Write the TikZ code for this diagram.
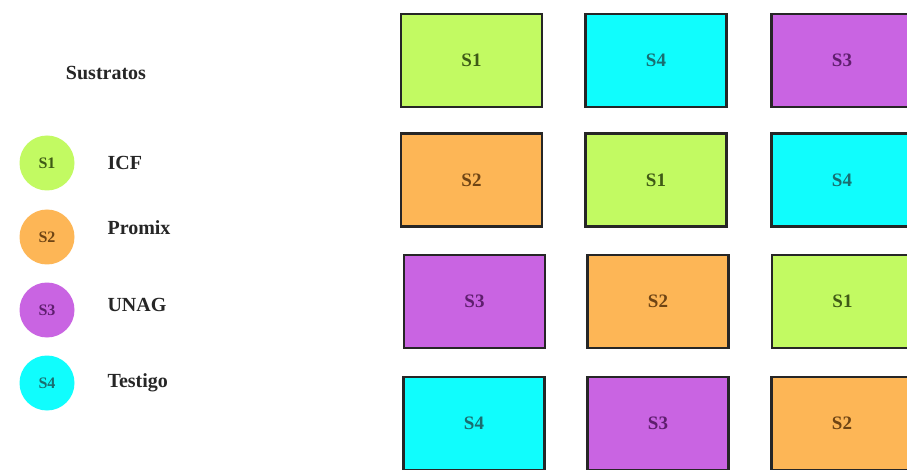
\documentclass[tikz,border=0pt]{standalone}
\usepackage{fontspec}
\setmainfont{Liberation Serif}
\usepackage{tikz}

\definecolor{sgreen}{HTML}{C2FA62}
\definecolor{sorange}{HTML}{FDB656}
\definecolor{spurple}{HTML}{C964E2}
\definecolor{scyan}{HTML}{10FDFD}
\definecolor{tgreen}{HTML}{3E5A16}
\definecolor{torange}{HTML}{6E4414}
\definecolor{tpurple}{HTML}{5E1E6E}
\definecolor{tcyan}{HTML}{1A6E70}

\tikzset{
  plot/.style={draw=black!85, line width=2.4pt, minimum width=141pt, minimum height=93pt, font=\fontsize{19}{19}\selectfont\bfseries},
  key/.style={circle, minimum size=55pt, inner sep=0pt, font=\fontsize{16}{16}\selectfont\bfseries},
  keylabel/.style={anchor=west, font=\fontsize{20}{20}\selectfont\bfseries, text=black!85}
}

\begin{document}
\begin{tikzpicture}[x=1pt, y=-1pt]
\clip (0,0) rectangle (907,470);
\fill[white] (0,0) rectangle (907,470);
\node[font=\fontsize{20}{20}\selectfont\bfseries, text=black!85] (title) at (106,73) {Sustratos};
\node[key, fill=sgreen, text=tgreen] (k1) at (47,163) {S1};
\node[key, fill=sorange, text=torange] (k2) at (47,237) {S2};
\node[key, fill=spurple, text=tpurple] (k3) at (47,310) {S3};
\node[key, fill=scyan, text=tcyan] (k4) at (47,383) {S4};
\node[keylabel] (n1) at (104,163) {ICF};
\node[keylabel] (n2) at (104,228) {Promix};
\node[keylabel] (n3) at (104,305) {UNAG};
\node[keylabel] (n4) at (104,383) {Testigo};
% parcelas
\node[plot, fill=sgreen, text=tgreen] (p11) at (471.5,60.5) {S1};
\node[plot, fill=scyan, text=tcyan] (p12) at (656,60.5) {S4};
\node[plot, fill=spurple, text=tpurple] (p13) at (842,60.5) {S3};
\node[plot, fill=sorange, text=torange] (p21) at (471.5,180) {S2};
\node[plot, fill=sgreen, text=tgreen] (p22) at (656,180) {S1};
\node[plot, fill=scyan, text=tcyan] (p23) at (842,180) {S4};
\node[plot, fill=spurple, text=tpurple] (p31) at (474.5,301.5) {S3};
\node[plot, fill=sorange, text=torange] (p32) at (658,301.5) {S2};
\node[plot, fill=sgreen, text=tgreen] (p33) at (842.5,301.5) {S1};
\node[plot, fill=scyan, text=tcyan] (p41) at (474,423.5) {S4};
\node[plot, fill=spurple, text=tpurple] (p42) at (658,423.5) {S3};
\node[plot, fill=sorange, text=torange] (p43) at (842,423.5) {S2};
\end{tikzpicture}
\end{document}
